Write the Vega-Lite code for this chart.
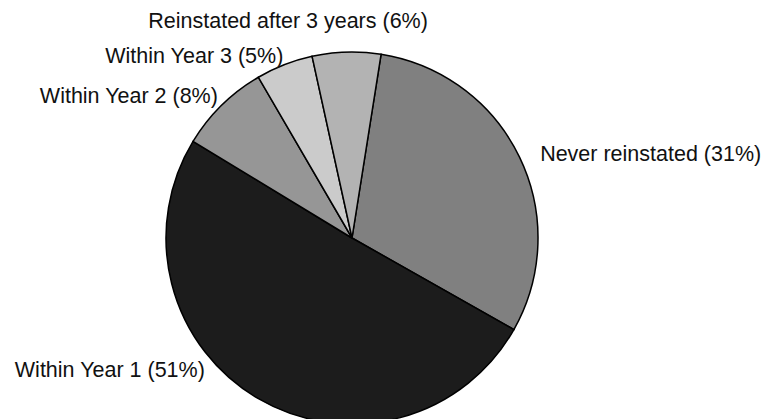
{
  "$schema": "https://vega.github.io/schema/vega-lite/v6.json",
  "autosize": "none",
  "width": 372,
  "height": 372,
  "padding": {"left": 166, "top": 52, "right": 228, "bottom": 0},
  "background": "white",
  "config": {"view": {"stroke": null}},
  "data": {
    "values": [
      {"rank": 1, "cat": "Never reinstated", "pct": 31, "label": "Never reinstated (31%)"},
      {"rank": 2, "cat": "Within Year 1", "pct": 51, "label": "Within Year 1 (51%)"},
      {"rank": 3, "cat": "Within Year 2", "pct": 8, "label": "Within Year 2 (8%)"},
      {"rank": 4, "cat": "Within Year 3", "pct": 5, "label": "Within Year 3 (5%)"},
      {"rank": 5, "cat": "Reinstated after 3 years", "pct": 6, "label": "Reinstated after 3 years (6%)"}
    ]
  },
  "encoding": {
    "theta": {"field": "pct", "type": "quantitative", "stack": true, "scale": {"range": [0.157, 6.4402]}},
    "order": {"field": "rank", "type": "quantitative"}
  },
  "layer": [
    {
      "mark": {"type": "arc", "stroke": "#000000", "strokeWidth": 1.5},
      "encoding": {
        "color": {
          "field": "cat",
          "type": "nominal",
          "legend": null,
          "scale": {
            "domain": ["Never reinstated", "Within Year 1", "Within Year 2", "Within Year 3", "Reinstated after 3 years"],
            "range": ["#808080", "#1c1c1c", "#969696", "#cbcbcb", "#b3b3b3"]
          }
        }
      }
    },
    {
      "mark": {"type": "text", "radius": 200, "align": "left", "baseline": "middle", "dx": 8, "dy": 4, "fontSize": 21.5, "font": "Liberation Sans", "color": "#111111"},
      "encoding": {"text": {"condition": {"test": "datum.cat === 'Never reinstated'", "field": "label"}, "value": ""}}
    },
    {
      "mark": {"type": "text", "radius": 200, "align": "right", "baseline": "middle", "dx": -46, "dy": -40, "fontSize": 21.5, "font": "Liberation Sans", "color": "#111111"},
      "encoding": {"text": {"condition": {"test": "datum.cat === 'Within Year 1'", "field": "label"}, "value": ""}}
    },
    {
      "mark": {"type": "text", "radius": 200, "align": "right", "baseline": "middle", "dx": 6, "dy": 2, "fontSize": 21.5, "font": "Liberation Sans", "color": "#111111"},
      "encoding": {"text": {"condition": {"test": "datum.cat === 'Within Year 2'", "field": "label"}, "value": ""}}
    },
    {
      "mark": {"type": "text", "radius": 200, "align": "right", "baseline": "middle", "dx": 4, "dy": 5, "fontSize": 21.5, "font": "Liberation Sans", "color": "#111111"},
      "encoding": {"text": {"condition": {"test": "datum.cat === 'Within Year 3'", "field": "label"}, "value": ""}}
    },
    {
      "mark": {"type": "text", "radius": 200, "align": "center", "baseline": "middle", "dx": -58, "dy": -16, "fontSize": 21.5, "font": "Liberation Sans", "color": "#111111"},
      "encoding": {"text": {"condition": {"test": "datum.cat === 'Reinstated after 3 years'", "field": "label"}, "value": ""}}
    }
  ]
}
